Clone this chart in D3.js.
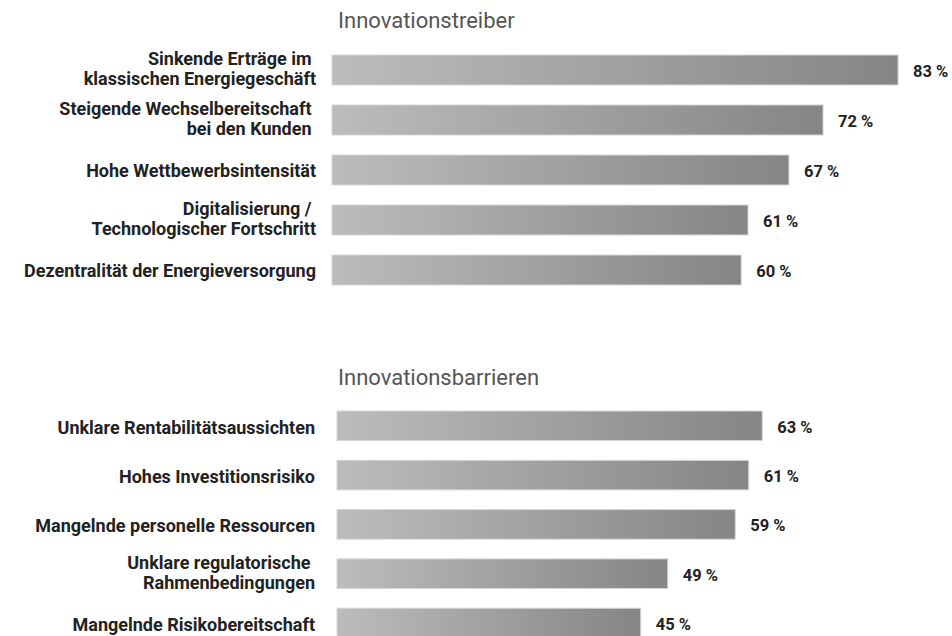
<!DOCTYPE html>
<html>
<head>
<meta charset="utf-8">
<script src="https://cdn.jsdelivr.net/npm/d3@7"></script>
<style>
  body { margin: 0; background: #fff; }
  text { font-family: Roboto, "Noto Sans", sans-serif; white-space: pre; }
</style>
</head>
<body>
<div id="chart"></div>
<script>
// data
var driverTitle = "Innovationstreiber";
var driverLabels = [
  ["Sinkende Erträge im ", "klassischen Energiegeschäft"],
  ["Steigende Wechselbereitschaft ", "bei den Kunden "],
  ["Hohe Wettbewerbsintensität"],
  ["Digitalisierung / ", "Technologischer Fortschritt"],
  ["Dezentralität der Energieversorgung"]
];
var driverValues = [83, 72, 67, 61, 60];

var barrierTitle = "Innovationsbarrieren";
var barrierLabels = [
  ["Unklare Rentabilitätsaussichten"],
  ["Hohes Investitionsrisiko"],
  ["Mangelnde personelle Ressourcen"],
  ["Unklare regulatorische ", "Rahmenbedingungen"],
  ["Mangelnde Risikobereitschaft"]
];
var barrierValues = [63, 61, 59, 49, 45];

var width = 952, height = 636;

var svg = d3.select("#chart")
  .append("svg")
    .attr("width", width)
    .attr("height", height);

// gradient used by every bar (light on the left, darker on the right)
var grad = svg.append("defs")
  .append("linearGradient")
    .attr("id", "barGrad")
    .attr("x1", "0%").attr("x2", "100%")
    .attr("y1", "0%").attr("y2", "0%");
grad.append("stop").attr("offset", "0%").attr("stop-color", "#bcbcbc");
grad.append("stop").attr("offset", "100%").attr("stop-color", "#858585");

// draw one block: title, labels, bars, values
function drawBlock(opts) {
  var n = opts.values.length;
  var idx = d3.range(n);

  var x = d3.scaleLinear()
    .domain([0, 100])
    .range([opts.x0, opts.x0 + opts.pxPerPct * 100]);

  var y = d3.scaleBand()
    .domain(idx)
    .range([opts.top - opts.step * 0.2, opts.top - opts.step * 0.2 + opts.step * n])
    .paddingInner(0.4)
    .paddingOuter(0.2);

  var g = svg.append("g");

  g.append("text")
    .attr("x", opts.titleX)
    .attr("y", opts.titleY)
    .attr("font-size", "22px")
    .attr("fill", "#555")
    .text(opts.title);

  g.selectAll("rect.bar")
    .data(opts.values)
    .enter()
    .append("rect")
      .attr("class", "bar")
      .attr("x", x(0))
      .attr("y", function(d, i) { return y(i); })
      .attr("width", function(d) { return x(d) - x(0); })
      .attr("height", y.bandwidth())
      .attr("fill", "url(#barGrad)")
      .attr("stroke", "#d6d6d6")
      .attr("stroke-width", 1);

  g.selectAll("text.val")
    .data(opts.values)
    .enter()
    .append("text")
      .attr("class", "val")
      .attr("x", function(d) { return x(d) + 15; })
      .attr("y", function(d, i) { return y(i) + y.bandwidth() / 2 + 7; })
      .attr("font-size", "16.5px")
      .attr("font-weight", "bold")
      .attr("fill", "#222")
      .text(function(d) { return d + " %"; });

  var lab = g.selectAll("text.lab")
    .data(opts.labels)
    .enter()
    .append("text")
      .attr("class", "lab")
      .attr("text-anchor", "end")
      .attr("font-size", "18px")
      .attr("font-weight", "bold")
      .attr("fill", "#222")
      .attr("transform", function(d, i) {
        return "translate(" + opts.labelX + "," + (y(i) + y.bandwidth() / 2) + ")";
      });

  lab.selectAll("tspan")
    .data(function(d) { return d; })
    .enter()
    .append("tspan")
      .attr("x", 0)
      .attr("y", function(t, j, nodes) {
        var lines = nodes.length;
        if (lines === 1) return opts.singleDy;
        return j === 0 ? -5 : 15;
      })
      .text(function(t) { return t; });
}

drawBlock({
  title: driverTitle, labels: driverLabels, values: driverValues,
  titleX: 338, titleY: 28,
  x0: 332, pxPerPct: 6.82,
  top: 55, step: 50,
  labelX: 316, singleDy: 7
});

drawBlock({
  title: barrierTitle, labels: barrierLabels, values: barrierValues,
  titleX: 338, titleY: 385,
  x0: 337, pxPerPct: 6.75,
  top: 411, step: 49.3,
  labelX: 315, singleDy: 8
});
</script>
</body>
</html>
